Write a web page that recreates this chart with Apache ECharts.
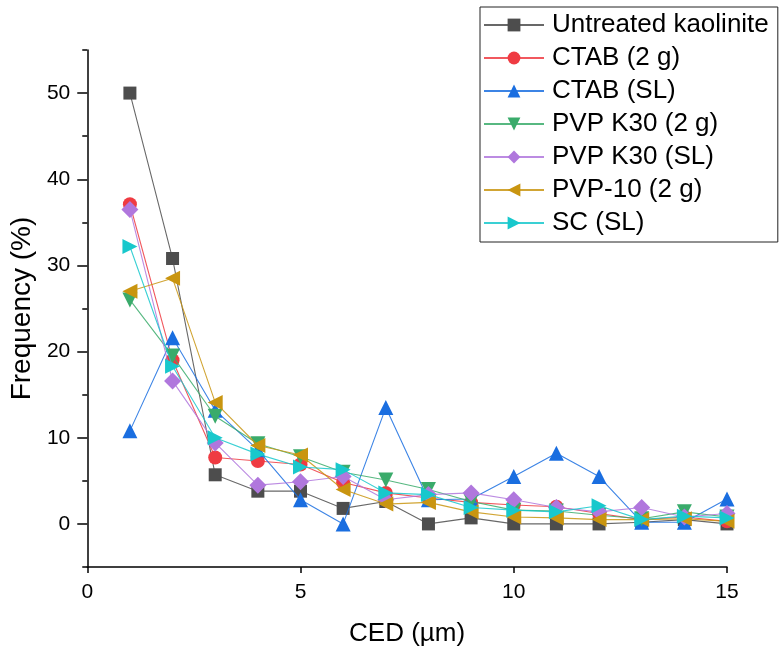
<!DOCTYPE html>
<html>
<head>
<meta charset="utf-8">
<script src="https://cdn.jsdelivr.net/npm/echarts@6/dist/echarts.min.js"></script>
<style>html,body{margin:0;padding:0;background:#fff}#c{width:780px;height:654px}</style>
</head>
<body>
<div id="c"></div>
<script>
const ced = [1,2,3,4,5,6,7,8,9,10,11,12,13,14,15];
const seriesNames = ['Untreated kaolinite','CTAB (2 g)','CTAB (SL)','PVP K30 (2 g)','PVP K30 (SL)','PVP-10 (2 g)','SC (SL)'];
const untreated = [50, 30.8, 5.7, 3.8, 3.8, 1.8, 2.6, 0, 0.7, 0, 0, 0, 0.2, 0.5, 0];
const ctab2g    = [37.1, 19.0, 7.7, 7.3, 6.9, 4.8, 3.6, 3.0, 2.5, 2.2, 2.0, 1.2, 0.5, 0.8, 0.3];
const ctabSL    = [10.8, 21.6, 13.2, 8.6, 2.8, 0, 13.5, 2.8, 2.9, 5.5, 8.2, 5.5, 0.2, 0.2, 2.9];
const pvpK30_2g = [26.0, 19.5, 12.5, 9.3, 7.8, 6.0, 5.1, 4.0, 2.6, 1.6, 1.5, 1.0, 0.6, 1.4, 0.8];
const pvpK30SL  = [36.5, 16.6, 9.4, 4.5, 4.9, 5.5, 2.8, 3.4, 3.6, 2.8, 1.9, 1.4, 1.9, 0.8, 1.2];
const pvp10_2g  = [27.0, 28.5, 14.1, 9.1, 8.0, 4.0, 2.3, 2.5, 1.4, 0.8, 0.7, 0.5, 0.5, 0.6, 0.3];
const scSL      = [32.2, 18.3, 10.0, 8.1, 6.6, 6.3, 3.6, 3.4, 1.9, 1.6, 1.4, 2.1, 0.5, 0.9, 0.7];
const yMajorTicks = [0, 10, 20, 30, 40, 50];
const yMinorTicks = [-5, 5, 15, 25, 35, 45, 55];

const values = [untreated, ctab2g, ctabSL, pvpK30_2g, pvpK30SL, pvp10_2g, scSL];
const colors = ['#4d4d4d','#ef3b42','#1a6ee0','#3aab6b','#b077dd','#c99510','#18c8cc'];
const symbols = ['rect','circle','triangle','triangle','diamond','triangle','triangle'];
const rotates = [0,0,0,180,0,90,-90];
const sizes = [13,14,15,15,17,15,15];

const font = 'Liberation Sans, Arial, Helvetica, sans-serif';
const chart = echarts.init(document.getElementById('c'), null, {renderer:'canvas'});
const series = values.map((v,i)=>({
  name: seriesNames[i],
  type: 'line',
  data: ced.map((x,j)=>[x, v[j]]),
  symbol: symbols[i],
  symbolSize: sizes[i],
  symbolRotate: rotates[i],
  itemStyle: {color: colors[i], opacity: 1},
  lineStyle: {color: colors[i], width: 1.1, opacity: 0.85},
  z: 2 + i,
  animation: false
}));

chart.setOption({
  animation: false,
  grid: {left: 85, right: 53, top: 50, bottom: 87},
  legend: {
    orient: 'vertical',
    left: 480, top: 7,
    padding: [5, 9, 6, 3],
    borderColor: '#222', borderWidth: 1,
    backgroundColor: '#fff',
    itemWidth: 60, itemHeight: 16, itemGap: 7,
    textStyle: {fontFamily: font, fontSize: 26, color: '#000', padding: [0,0,0,3]},
    data: seriesNames
  },
  xAxis: {
    type: 'value', min: 0, max: 15, interval: 5,
    name: 'CED (µm)', nameLocation: 'middle', nameGap: 54,
    nameTextStyle: {fontFamily: font, fontSize: 26, color: '#000'},
    axisLine: {show: true, onZero: false, lineStyle: {color: '#000', width: 1.5}},
    axisTick: {show: true, inside: false, length: 6, lineStyle: {color: '#000', width: 1.5}},
    axisLabel: {fontFamily: font, fontSize: 21, color: '#000', margin: 15},
    splitLine: {show: false}
  },
  yAxis: [{
    type: 'value', min: -5, max: 55, interval: 5,
    name: 'Frequency (%)', nameLocation: 'middle', nameGap: 50, nameRotate: 90,
    nameTextStyle: {fontFamily: font, fontSize: 28, color: '#000'},
    axisLine: {show: true, onZero: false, lineStyle: {color: '#000', width: 1.5}},
    axisTick: {show: true, length: 10, customValues: yMajorTicks, lineStyle: {color: '#000', width: 1.5}},
    axisLabel: {fontFamily: font, fontSize: 21, color: '#000', margin: 17, customValues: yMajorTicks},
    splitLine: {show: false}
  },{
    type: 'value', min: -5, max: 55, interval: 5, position: 'left', offset: 0,
    axisLine: {show: false},
    axisTick: {show: true, length: 5, customValues: yMinorTicks, lineStyle: {color: '#000', width: 1.5}},
    axisLabel: {show: false},
    splitLine: {show: false}
  }],
  series: series
});
</script>
</body>
</html>
